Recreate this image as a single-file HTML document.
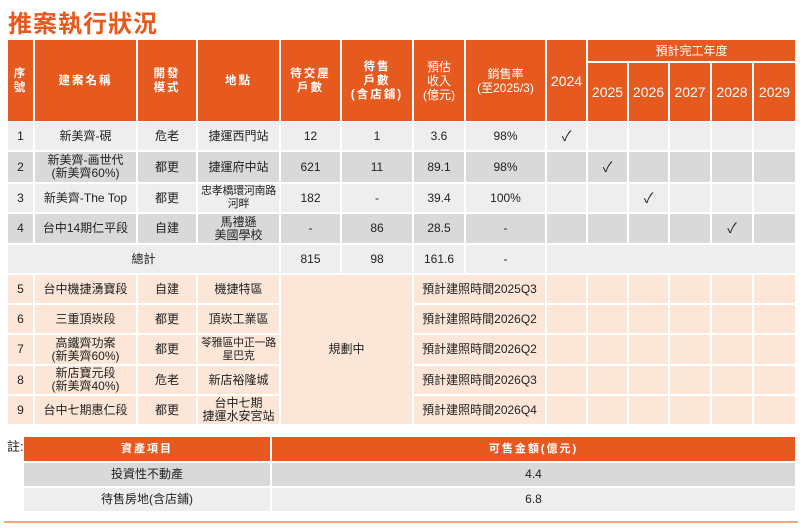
<!DOCTYPE html>
<html><head><meta charset="utf-8"><style>
body{margin:0;width:800px;height:529px;background:#fff;position:relative;overflow:hidden;font-family:"Liberation Sans","Noto Sans CJK TC",sans-serif;}
.c{position:absolute;display:flex;align-items:center;justify-content:center;text-align:center;font-size:12px;color:#222;line-height:13px;box-sizing:border-box;white-space:nowrap;}
.s{font-size:11px;letter-spacing:-0.3px;}
.h{background:#E65A1F;color:#fff;font-weight:bold;font-size:11.5px;letter-spacing:2px;line-height:14px;}
.y{letter-spacing:0;font-size:14px;font-weight:normal;}
.a{background:#EEEEEE}.b{background:#D9D9D9}.p{background:#FBE6D8}
</style></head><body>
<div style="position:absolute;left:8px;top:4px;font-size:24px;font-weight:bold;color:#E65A1F;letter-spacing:1px">推案執行狀況</div>

<div class="c h" style="left:8px;top:40px;width:25px;height:81px">序<br>號</div>
<div class="c h" style="left:35px;top:40px;width:101px;height:81px">建案名稱</div>
<div class="c h" style="left:138px;top:40px;width:58px;height:81px">開發<br>模式</div>
<div class="c h" style="left:198px;top:40px;width:81px;height:81px">地點</div>
<div class="c h" style="left:281px;top:40px;width:59px;height:81px">待交屋<br>戶數</div>
<div class="c h" style="left:342px;top:40px;width:70px;height:81px">待售<br>戶數<br>(含店鋪)</div>
<div class="c h" style="left:414px;top:40px;width:50px;height:81px;letter-spacing:0;font-size:12px;font-weight:normal">預估<br>收入<br>(億元)</div>
<div class="c h" style="left:466px;top:40px;width:79px;height:81px;letter-spacing:0;font-size:12px;font-weight:normal">銷售率<br>(至2025/3)</div>
<div class="c h y" style="left:547px;top:40px;width:39px;height:81px">2024</div>
<div class="c h" style="left:588px;top:40px;width:207px;height:21px;letter-spacing:0;font-size:12px;font-weight:normal">預計完工年度</div>
<div class="c h y" style="left:588px;top:63px;width:39px;height:58px">2025</div>
<div class="c h y" style="left:629px;top:63px;width:39px;height:58px">2026</div>
<div class="c h y" style="left:670px;top:63px;width:40px;height:58px">2027</div>
<div class="c h y" style="left:712px;top:63px;width:40px;height:58px">2028</div>
<div class="c h y" style="left:754px;top:63px;width:41px;height:58px">2029</div>

<div class="c a" style="left:8px;top:122px;width:25px;height:28px">1</div>
<div class="c a" style="left:35px;top:122px;width:101px;height:28px">新美齊-硯</div>
<div class="c a" style="left:138px;top:122px;width:58px;height:28px">危老</div>
<div class="c a" style="left:198px;top:122px;width:81px;height:28px">捷運西門站</div>
<div class="c a" style="left:281px;top:122px;width:59px;height:28px">12</div>
<div class="c a" style="left:342px;top:122px;width:70px;height:28px">1</div>
<div class="c a" style="left:414px;top:122px;width:50px;height:28px">3.6</div>
<div class="c a" style="left:466px;top:122px;width:79px;height:28px">98%</div>
<div class="c a" style="left:547px;top:122px;width:39px;height:28px;font-size:14px">✓</div>
<div class="c a" style="left:588px;top:122px;width:39px;height:28px"></div>
<div class="c a" style="left:629px;top:122px;width:39px;height:28px"></div>
<div class="c a" style="left:670px;top:122px;width:40px;height:28px"></div>
<div class="c a" style="left:712px;top:122px;width:40px;height:28px"></div>
<div class="c a" style="left:754px;top:122px;width:41px;height:28px"></div>

<div class="c b" style="left:8px;top:152px;width:25px;height:30px">2</div>
<div class="c b" style="left:35px;top:152px;width:101px;height:30px">新美齊-画世代<br>(新美齊60%)</div>
<div class="c b" style="left:138px;top:152px;width:58px;height:30px">都更</div>
<div class="c b" style="left:198px;top:152px;width:81px;height:30px">捷運府中站</div>
<div class="c b" style="left:281px;top:152px;width:59px;height:30px">621</div>
<div class="c b" style="left:342px;top:152px;width:70px;height:30px">11</div>
<div class="c b" style="left:414px;top:152px;width:50px;height:30px">89.1</div>
<div class="c b" style="left:466px;top:152px;width:79px;height:30px">98%</div>
<div class="c b" style="left:547px;top:152px;width:39px;height:30px"></div>
<div class="c b" style="left:588px;top:152px;width:39px;height:30px;font-size:14px">✓</div>
<div class="c b" style="left:629px;top:152px;width:39px;height:30px"></div>
<div class="c b" style="left:670px;top:152px;width:40px;height:30px"></div>
<div class="c b" style="left:712px;top:152px;width:40px;height:30px"></div>
<div class="c b" style="left:754px;top:152px;width:41px;height:30px"></div>

<div class="c a" style="left:8px;top:184px;width:25px;height:28px">3</div>
<div class="c a" style="left:35px;top:184px;width:101px;height:28px">新美齊-The Top</div>
<div class="c a" style="left:138px;top:184px;width:58px;height:28px">都更</div>
<div class="c a s" style="left:198px;top:184px;width:81px;height:28px">忠孝橋環河南路<br>河畔</div>
<div class="c a" style="left:281px;top:184px;width:59px;height:28px">182</div>
<div class="c a" style="left:342px;top:184px;width:70px;height:28px">-</div>
<div class="c a" style="left:414px;top:184px;width:50px;height:28px">39.4</div>
<div class="c a" style="left:466px;top:184px;width:79px;height:28px">100%</div>
<div class="c a" style="left:547px;top:184px;width:39px;height:28px"></div>
<div class="c a" style="left:588px;top:184px;width:39px;height:28px"></div>
<div class="c a" style="left:629px;top:184px;width:39px;height:28px;font-size:14px">✓</div>
<div class="c a" style="left:670px;top:184px;width:40px;height:28px"></div>
<div class="c a" style="left:712px;top:184px;width:40px;height:28px"></div>
<div class="c a" style="left:754px;top:184px;width:41px;height:28px"></div>

<div class="c b" style="left:8px;top:214px;width:25px;height:29px">4</div>
<div class="c b" style="left:35px;top:214px;width:101px;height:29px">台中14期仁平段</div>
<div class="c b" style="left:138px;top:214px;width:58px;height:29px">自建</div>
<div class="c b" style="left:198px;top:214px;width:81px;height:29px">馬禮遜<br>美國學校</div>
<div class="c b" style="left:281px;top:214px;width:59px;height:29px">-</div>
<div class="c b" style="left:342px;top:214px;width:70px;height:29px">86</div>
<div class="c b" style="left:414px;top:214px;width:50px;height:29px">28.5</div>
<div class="c b" style="left:466px;top:214px;width:79px;height:29px">-</div>
<div class="c b" style="left:547px;top:214px;width:39px;height:29px"></div>
<div class="c b" style="left:588px;top:214px;width:39px;height:29px"></div>
<div class="c b" style="left:629px;top:214px;width:39px;height:29px"></div>
<div class="c b" style="left:670px;top:214px;width:40px;height:29px"></div>
<div class="c b" style="left:712px;top:214px;width:40px;height:29px;font-size:14px">✓</div>
<div class="c b" style="left:754px;top:214px;width:41px;height:29px"></div>

<div class="c a" style="left:8px;top:245px;width:271px;height:28px">總計</div>
<div class="c a" style="left:281px;top:245px;width:59px;height:28px">815</div>
<div class="c a" style="left:342px;top:245px;width:70px;height:28px">98</div>
<div class="c a" style="left:414px;top:245px;width:50px;height:28px">161.6</div>
<div class="c a" style="left:466px;top:245px;width:79px;height:28px">-</div>
<div class="c a" style="left:547px;top:245px;width:248px;height:28px"></div>

<div class="c p" style="left:281px;top:275px;width:131px;height:149px">規劃中</div>

<div class="c p" style="left:8px;top:275px;width:25px;height:28px">5</div>
<div class="c p" style="left:35px;top:275px;width:101px;height:28px">台中機捷湧寶段</div>
<div class="c p" style="left:138px;top:275px;width:58px;height:28px">自建</div>
<div class="c p" style="left:198px;top:275px;width:81px;height:28px">機捷特區</div>
<div class="c p" style="left:414px;top:275px;width:131px;height:28px">預計建照時間2025Q3</div>

<div class="c p" style="left:8px;top:305px;width:25px;height:28px">6</div>
<div class="c p" style="left:35px;top:305px;width:101px;height:28px">三重頂崁段</div>
<div class="c p" style="left:138px;top:305px;width:58px;height:28px">都更</div>
<div class="c p" style="left:198px;top:305px;width:81px;height:28px">頂崁工業區</div>
<div class="c p" style="left:414px;top:305px;width:131px;height:28px">預計建照時間2026Q2</div>

<div class="c p" style="left:8px;top:335px;width:25px;height:29px">7</div>
<div class="c p" style="left:35px;top:335px;width:101px;height:29px">高鐵齊功案<br>(新美齊60%)</div>
<div class="c p" style="left:138px;top:335px;width:58px;height:29px">都更</div>
<div class="c p s" style="left:198px;top:335px;width:81px;height:29px">苓雅區中正一路<br>星巴克</div>
<div class="c p" style="left:414px;top:335px;width:131px;height:29px">預計建照時間2026Q2</div>

<div class="c p" style="left:8px;top:366px;width:25px;height:28px">8</div>
<div class="c p" style="left:35px;top:366px;width:101px;height:28px">新店寶元段<br>(新美齊40%)</div>
<div class="c p" style="left:138px;top:366px;width:58px;height:28px">危老</div>
<div class="c p" style="left:198px;top:366px;width:81px;height:28px">新店裕隆城</div>
<div class="c p" style="left:414px;top:366px;width:131px;height:28px">預計建照時間2026Q3</div>

<div class="c p" style="left:8px;top:396px;width:25px;height:28px">9</div>
<div class="c p" style="left:35px;top:396px;width:101px;height:28px">台中七期惠仁段</div>
<div class="c p" style="left:138px;top:396px;width:58px;height:28px">都更</div>
<div class="c p" style="left:198px;top:396px;width:81px;height:28px">台中七期<br>捷運水安宮站</div>
<div class="c p" style="left:414px;top:396px;width:131px;height:28px">預計建照時間2026Q4</div>

<div id="g"></div>
<script>
var ys=[[275,28],[305,28],[335,29],[366,28],[396,28]],xs=[[547,39],[588,39],[629,39],[670,40],[712,40],[754,41]],h='';
ys.forEach(function(y){xs.forEach(function(x){h+='<div class="c p" style="left:'+x[0]+'px;top:'+y[0]+'px;width:'+x[1]+'px;height:'+y[1]+'px"></div>';});});
document.getElementById('g').innerHTML=h;
</script>

<div style="position:absolute;left:7px;top:436px;font-size:13px;color:#222">註:</div>
<div class="c h" style="left:24px;top:437px;width:246px;height:24px;font-size:11px">資產項目</div>
<div class="c h" style="left:272px;top:437px;width:523px;height:24px;font-size:11px">可售金額(億元)</div>
<div class="c b" style="left:24px;top:463px;width:246px;height:23px">投資性不動產</div>
<div class="c b" style="left:272px;top:463px;width:523px;height:23px">4.4</div>
<div class="c a" style="left:24px;top:488px;width:246px;height:23px">待售房地(含店鋪)</div>
<div class="c a" style="left:272px;top:488px;width:523px;height:23px">6.8</div>
<div style="position:absolute;left:4px;top:521px;width:794px;height:2px;background:#F0A77E"></div>
</body></html>
